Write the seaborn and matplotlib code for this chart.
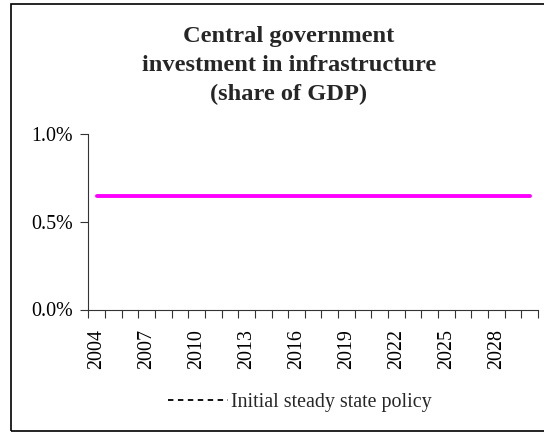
import matplotlib
matplotlib.use("Agg")
import matplotlib.pyplot as plt
from matplotlib.patches import Rectangle
from matplotlib.ticker import FixedLocator, FuncFormatter
import seaborn as sns
import pandas as pd

# ---- Data ----
years = list(range(2004, 2031))
investment = [0.0065] * len(years)          # central gov. investment (share of GDP)
initial_policy = [0.0065] * len(years)      # initial steady state policy
y_ticks = [0.0, 0.005, 0.010]
shown_years = years[::3]

df = pd.DataFrame({"year": years, "investment": investment,
                   "initial": initial_policy})
df["pos"] = range(len(df))

sns.set_theme(style="white")
plt.rcParams['font.family'] = ['Liberation Serif', 'DejaVu Serif']

fig = plt.figure(figsize=(5.44, 4.32), dpi=100)
ax = fig.add_axes([88.3 / 544, 1 - 309.5 / 432, (538 - 88.3) / 544, (309.5 - 134.3) / 432])

sns.lineplot(data=df, x="pos", y="initial", ax=ax, color="black", lw=1.3,
             linestyle=(0, (3, 2.5)), label="Initial steady state policy")
sns.lineplot(data=df, x="pos", y="investment", ax=ax, color="#FF00FF", lw=2.8,
             solid_capstyle="round", label="_nolegend_")

ax.set_xlim(-0.5, len(years) - 0.5)
ax.set_ylim(0, 0.010)
ax.set_xlabel("")
ax.set_ylabel("")

# category axis: labels every 3 years, tick marks between categories
ax.xaxis.set_major_locator(FixedLocator([years.index(y) for y in shown_years]))
ax.xaxis.set_major_formatter(FuncFormatter(lambda v, p: str(years[int(round(v))])))
ax.xaxis.set_minor_locator(FixedLocator([i - 0.5 for i in range(len(years) + 1)]))
ax.tick_params(axis="x", which="major", length=0, pad=14, labelsize=14.4,
               labelrotation=90, colors="black")
ax.tick_params(axis="x", which="minor", length=6, width=0.8, direction="out",
               bottom=True, color="#333333")

ax.set_yticks(y_ticks)
ax.yaxis.set_major_formatter(FuncFormatter(lambda v, p: f"{v * 100:.1f}%"))
ax.tick_params(axis="y", length=6, width=0.8, direction="out", left=True,
               pad=5, labelsize=14.4, color="#333333", labelcolor="black")

for side in ["top", "right"]:
    ax.spines[side].set_visible(False)
for side in ["left", "bottom"]:
    ax.spines[side].set_color("#333333")
    ax.spines[side].set_linewidth(0.8)

ax.legend_.remove()
handles, labels = ax.get_legend_handles_labels()
fig.legend(handles, labels, loc="center left", bbox_to_anchor=(168 / 544, 1 - 402 / 432),
           frameon=False, fontsize=14.4, handlelength=3.0, handletextpad=0.15,
           borderpad=0, borderaxespad=0)

fig.text(289 / 544, 1 - 26 / 432,
         "Central government\ninvestment in infrastructure\n(share of GDP)",
         ha="center", va="top", fontsize=17.6, fontweight="bold", linespacing=1.5)

# outer chart frame (right edge falls outside the picture)
fig.add_artist(Rectangle((11 / 544, 1 - 431 / 432), 545 / 544, 427 / 432,
                         transform=fig.transFigure, fill=False, lw=1.2,
                         edgecolor="black"))

fig.savefig("out.png", dpi=100)
